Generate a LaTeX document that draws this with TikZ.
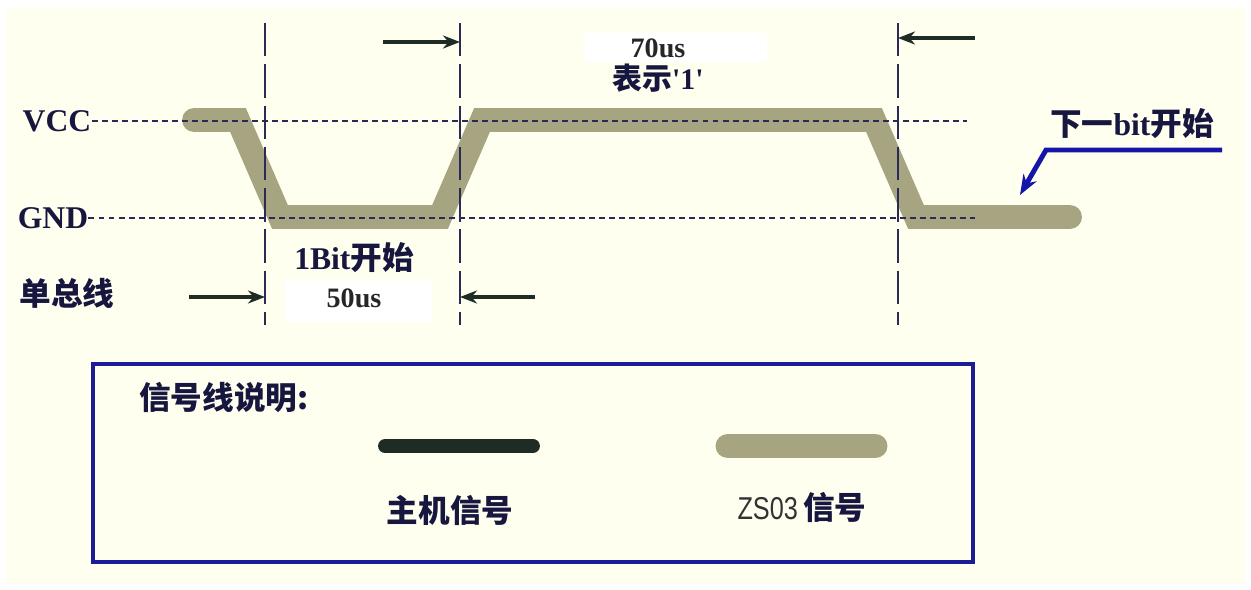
\documentclass[tikz,border=0pt]{standalone}
\usepackage{fontspec}
\setmainfont{Liberation Serif}
\newfontfamily\cjk{Noto Sans CJK SC}
\newfontfamily\narrowSans{Liberation Sans}
\usepackage{xcolor}
\definecolor{bgCream}{HTML}{FFFFF0}
\definecolor{signalColor}{HTML}{A7A482}
\definecolor{hostColor}{HTML}{1F2B25}
\definecolor{frameColor}{HTML}{1C1C96}
\definecolor{labelDark}{HTML}{16163F}
\definecolor{gridDark}{HTML}{2A2A55}
\definecolor{pointerBlue}{HTML}{1515A8}
\usepackage{tikz}
\usetikzlibrary{positioning,calc,arrows.meta}
\tikzset{
  levelLabel/.style={
    font=\fontsize{18}{20}\selectfont\bfseries,
    text=labelDark,
    inner sep=0pt
 },
  cjkLabel/.style={
    font=\fontsize{18}{20}\selectfont\cjk\bfseries,
    text=labelDark,
    inner sep=0pt
 },
  timeLabel/.style={
    font=\fontsize{16}{18}\selectfont\bfseries,
    text=black!85,
    inner sep=0pt
 },
  levelLine/.style={
    draw=gridDark,
    line width=0.85pt,
    dash pattern=on 3.4pt off 2.3pt
 },
  edgeLine/.style={
    draw=gridDark,
    line width=1.1pt,
    dash pattern=on 19pt off 4.5pt
 },
  busSignal/.style={
    draw=signalColor,
    line width=13.6pt,
    line cap=round,
    line join=miter
 },
  hostSignal/.style={
    draw=hostColor,
    line width=7.9pt,
    line cap=round
 },
  dimArrow/.style={
    -{Stealth[length=3.4mm,width=2.6mm]},
    draw=hostColor,
    line width=2.3pt
 },
  pointerArrow/.style={
    -{Stealth[length=4mm,width=3mm]},
    draw=pointerBlue,
    line width=2.8pt
 },
  legendFrame/.style={
    draw=frameColor,
    line width=2.3pt
 }
}

\begin{document}
\begin{tikzpicture}[x=0.02cm, y=-0.02cm]

            \useasboundingbox (0,0) rectangle (1251,589);
            \fill[white] (0,0) rectangle (1251,589);
            \fill[bgCream] (6,8) rectangle (1245,584);

            % white patches behind the times
            \fill[white] (585,33) rectangle (767,62);
            \fill[white] (285,280) rectangle (432,322);

            % the bus signal
            \draw[busSignal] (194,120) -- (238,120) -- (280,217) -- (440,217)
              -- (482,120) -- (874,120) -- (916,217) -- (1070,217);

            % edge markers
            \coordinate (edgeA) at (265,23);
            \coordinate (edgeB) at (460,23);
            \coordinate (edgeC) at (898,23);
            \foreach \e in {edgeA,edgeB,edgeC}
              \draw[edgeLine] (\e) -- ++(0,302);

            % levels on the left
            \node[levelLabel] (vccLbl) at (57,121) {VCC};
            \node[levelLabel] (gndLbl) at (53,218) {GND};
            \node[cjkLabel] (busLbl) at (67,293) {单总线};
            \coordinate (vccEnd) at (967,121);
            \coordinate (gndEnd) at (975,218);
            \draw[levelLine] (vccLbl.east) -- (vccLbl.east -| vccEnd);
            \draw[levelLine] (gndLbl.east) -- (gndLbl.east -| gndEnd);

            % time arrows
            \coordinate (dimTopL) at (383,42);
            \coordinate (dimTopR) at (975,38);
            \coordinate (dimBotL) at (189,297);
            \coordinate (dimBotR) at (535,297);
            \draw[dimArrow] (dimTopL) -- (dimTopL -| edgeB);
            \draw[dimArrow] (dimTopR) -- (dimTopR -| edgeC);
            \draw[dimArrow] (dimBotL) -- (dimBotL -| edgeA);
            \draw[dimArrow] (dimBotR) -- (dimBotR -| edgeB);

            % time labels
            \node[timeLabel] (highTime) at (658,48) {70us};
            \node[cjkLabel, font=\fontsize{17}{19}\selectfont\cjk\bfseries, below=1.2mm of highTime] (highMeaning)
              {表示{\rmfamily\bfseries\textquotesingle 1\textquotesingle}};
            \node[levelLabel] (bitStart) at (354,258) {1Bit{\cjk 开始}};
            \node[timeLabel, below=3mm of bitStart] (lowTime) {50us};

            % next bit pointer
            \node[cjkLabel] (nextBit) at (1132,124) {下一{\rmfamily bit}开始};
            \coordinate (noteStart) at (1222,150);
            \coordinate (noteBend) at (1046,150);
            \coordinate (noteTip) at (1020,195);
            \draw[pointerArrow] (noteStart) -- (noteBend) -- (noteTip);

            % legend box
            \coordinate (frameNW) at (93,364);
            \coordinate (frameSE) at (973,562);
            \draw[legendFrame] (frameNW) rectangle (frameSE);
            \node[cjkLabel, anchor=west] (legendTitle) at (139,398) {信号线说明:};
            \coordinate (hostBarL) at (385,446);
            \coordinate (hostBarR) at (533,446);
            \draw[hostSignal] (hostBarL) -- (hostBarR);
            \coordinate (zsBarL) at (728,446);
            \coordinate (zsBarR) at (875,446);
            \draw[busSignal, line width=14.2pt] (zsBarL) -- (zsBarR);
            \node[cjkLabel] (hostCaption) at (450,510) {主机信号};
            \node[cjkLabel] (zsCaption) at (802,507)
              {{\narrowSans\mdseries\color{black!80}\scalebox{0.8}[1]{ZS03}}\,信号};

        \end{tikzpicture}
\end{document}
